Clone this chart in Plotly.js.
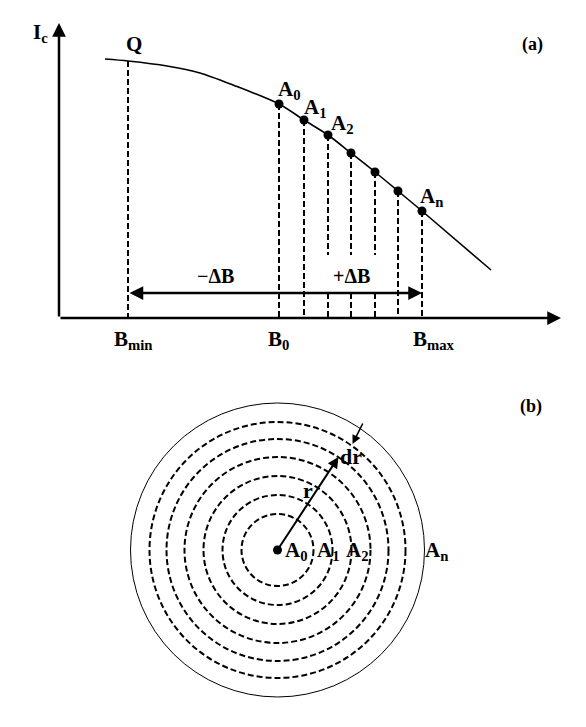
<!DOCTYPE html>
<html>
<head>
<meta charset="utf-8">
<script src="https://cdn.plot.ly/plotly-3.0.1.min.js"></script>
<style>html,body{margin:0;padding:0;background:#fff;}</style>
</head>
<body>
<div id="chart" style="width:586px;height:727px;"></div>
<script>
// ---------- Panel (a): Ic versus B ----------
// smooth Ic(B) curve
var curveB  = [46, 69, 108, 141, 174, 220, 245, 269, 292, 316, 339, 363, 432];
var curveIc = [259, 257, 252, 245, 233, 214, 198, 183, 165, 146, 127, 107, 48];
// marked points A0 ... An on the curve
var pointB  = [220, 245, 269, 292, 316, 339, 363];
var pointIc = [214, 198, 183, 165, 146, 127, 107];
var pointLabels = ['A<sub>0</sub>', 'A<sub>1</sub>', 'A<sub>2</sub>', '', '', '', 'A<sub>n</sub>'];
// dashed drop line interrupted by the "+ΔB" label
var dropBroken = [false, false, true, true, true, false, false];
// point Q
var qB = 69, qIc = 257;
// field markers on the B axis
var fieldLabels = ['B<sub>min</sub>', 'B<sub>0</sub>', 'B<sub>max</sub>'];
var fieldB = [69, 220, 363];
var arrowIc = 25;       // level of the ±ΔB arrow
var gapTopIc = 63;      // upper end of the gap in the broken drop lines
var axisEndB = 502, axisEndIc = 295;

// ---------- Panel (b): concentric rings ----------
var ringRadii = [36, 55, 74, 93, 111, 128, 147];   // A1 ... An (last one solid)
var rArrowTip = [61, 93];
var drArrowTail = [86, 128], drArrowTip = [75, 106];
var ringLabels = ['A<sub>0</sub>', 'A<sub>1</sub>', 'A<sub>2</sub>', 'A<sub>n</sub>'];
var ringLabelX = [19, 51, 80, 159];

var FONT = '"Liberation Serif", "Times New Roman", serif';
var traces = [];

// curve
traces.push({x: curveB, y: curveIc, xaxis: 'x', yaxis: 'y', mode: 'lines',
  line: {color: '#000', width: 1.6, shape: 'spline', smoothing: 0.8}, hoverinfo: 'skip'});

// dashed drop lines
var dx = [], dy = [];
function seg(b, y0, y1) { dx.push(b, b, null); dy.push(y0, y1, null); }
seg(qB, qIc, 0);
for (var i = 0; i < pointB.length; i++) {
  if (dropBroken[i]) { seg(pointB[i], pointIc[i], gapTopIc); seg(pointB[i], arrowIc, 0); }
  else { seg(pointB[i], pointIc[i], 0); }
}
traces.push({x: dx, y: dy, xaxis: 'x', yaxis: 'y', mode: 'lines',
  line: {color: '#000', width: 2, dash: '6px,3px'}, hoverinfo: 'skip'});

// points
traces.push({x: pointB, y: pointIc, xaxis: 'x', yaxis: 'y', mode: 'markers',
  marker: {color: '#000', size: 9}, hoverinfo: 'skip'});

// centre dot of panel (b)
traces.push({x: [0], y: [0], xaxis: 'x2', yaxis: 'y2', mode: 'markers',
  marker: {color: '#000', size: 9}, hoverinfo: 'skip'});

var ann = [];
function txt(x, y, t, xr, yr, size, bold, xanchor) {
  ann.push({x: x, y: y, xref: xr, yref: yr, text: bold ? '<b>' + t + '</b>' : t, showarrow: false,
    font: {family: FONT, size: size, color: '#000'}, xanchor: xanchor || 'center', yanchor: 'middle'});
}
function arrow(x, y, ax, ay, xr, yr, w, both) {
  ann.push({x: x, y: y, ax: ax, ay: ay, xref: xr, yref: yr, axref: xr, ayref: yr, text: '',
    showarrow: true, arrowhead: 2, arrowsize: 1.1, arrowwidth: w, arrowcolor: '#000',
    arrowside: both ? 'end+start' : 'end', startarrowhead: 2, startarrowsize: 1.1, standoff: 0, startstandoff: 0});
}
// axes of panel (a)
arrow(axisEndB, 0, 0, 0, 'x', 'y', 2.5, false);
arrow(0, axisEndIc, 0, 0, 'x', 'y', 2.5, false);
// ±ΔB double arrow
arrow(fieldB[2], arrowIc, fieldB[0], arrowIc, 'x', 'y', 2.5, true);

// labels panel (a)
txt(-19, 285, 'I<sub>c</sub>', 'x', 'y', 21, true);
txt(qB + 6, qIc + 17, 'Q', 'x', 'y', 21, true);
txt(473, 274, '(a)', 'x', 'y', 18, true);
var offs = [[10, 14], [11, 12], [14, 11], [0, 0], [0, 0], [0, 0], [9, 14]];
for (var k = 0; k < pointB.length; k++) {
  if (pointLabels[k]) txt(pointB[k] + offs[k][0], pointIc[k] + offs[k][1], pointLabels[k], 'x', 'y', 21, true);
}
txt(156, 42, '\u2212\u0394B', 'x', 'y', 20, true);
txt(292, 42, '+\u0394B', 'x', 'y', 20, true);
var fOff = [5, -1, 12];
for (var f = 0; f < fieldB.length; f++) txt(fieldB[f] + fOff[f], -22, fieldLabels[f], 'x', 'y', 21, true);

// panel (b)
arrow(rArrowTip[0], rArrowTip[1], 0, 0, 'x2', 'y2', 2, false);
arrow(drArrowTip[0], drArrowTip[1], drArrowTail[0], drArrowTail[1], 'x2', 'y2', 1.6, false);
txt(30, 59, 'r', 'x2', 'y2', 22, true);
txt(73, 93, 'dr', 'x2', 'y2', 22, true);
txt(253, 143, '(b)', 'x2', 'y2', 18, true);
for (var m = 0; m < ringLabels.length; m++) txt(ringLabelX[m], -1, ringLabels[m], 'x2', 'y2', 21, true);

// ring shapes
var shapes = ringRadii.map(function (r, idx) {
  var last = idx === ringRadii.length - 1;
  return {type: 'circle', xref: 'x2', yref: 'y2', x0: -r, x1: r, y0: -r, y1: r,
    line: {color: '#000', width: last ? 1 : 2, dash: last ? 'solid' : '6px,3px'}};
});

var hidden = {visible: false, showgrid: false, zeroline: false, fixedrange: true};
var layout = {
  width: 586, height: 727, margin: {l: 0, r: 0, t: 0, b: 0},
  paper_bgcolor: '#fff', plot_bgcolor: '#fff', showlegend: false,
  xaxis: Object.assign({domain: [0, 1], range: [-59, 527], anchor: 'y'}, hidden),
  yaxis: Object.assign({domain: [0.49106, 1], range: [-52, 318], anchor: 'x'}, hidden),
  xaxis2: Object.assign({domain: [0, 1], range: [-277.5, 308.5], anchor: 'y2'}, hidden),
  yaxis2: Object.assign({domain: [0, 0.49106], range: [-177, 180], anchor: 'x2'}, hidden),
  annotations: ann, shapes: shapes
};
Plotly.newPlot('chart', traces, layout, {staticPlot: true, displayModeBar: false});
</script>
</body>
</html>
